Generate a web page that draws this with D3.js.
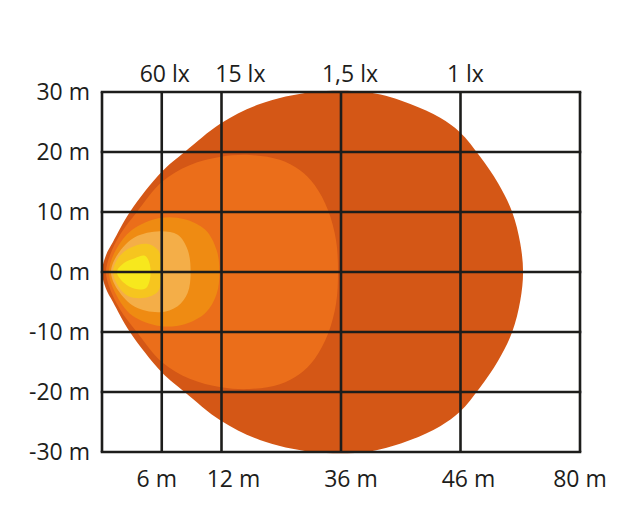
<!DOCTYPE html>
<html>
<head>
<meta charset="utf-8">
<script src="https://cdn.jsdelivr.net/npm/d3@7"></script>
<style>
  body { margin: 0; background: #fff; }
  text { font-family: "Open Sans", sans-serif; font-size: 23px; fill: #1d1d1b; }
</style>
</head>
<body>
<div class="container"></div>
<script>
// distance ticks (m) along the beam, spaced unevenly on the chart
const xTicks = [0, 6, 12, 36, 46, 80];
const xTickLabels = ["", "6 m", "12 m", "36 m", "46 m", "80 m"];
const yTicks = [30, 20, 10, 0, -10, -20, -30];
const yTickLabels = ["30 m", "20 m", "10 m", "0 m", "-10 m", "-20 m", "-30 m"];

// lux labels along the top and where they sit (m)
const luxLabels = ["60 lx", "15 lx", "1,5 lx", "1 lx"];
const luxAt = [6.3, 15.8, 36.75, 47.4];

// isolux contours, [distance m, lateral m]
const contour1lx = [
  [0, 0], [0.4, 2.8], [1.1, 5], [2.8, 10], [6, 16.7], [8.3, 20], [11.95, 24.8], [19.7, 28],
  [30.4, 30], [38.4, 29.9], [41.8, 28], [44.3, 25.7], [45.95, 23.3], [51.5, 19.3],
  [56.7, 14.8], [60.7, 10], [63, 4.8], [63.8, 0], [63, -4.8], [60.7, -10], [56.7, -14.8],
  [51.5, -19.3], [45.95, -23.3], [44.3, -25.7], [41.8, -28], [38.4, -29.9], [30.4, -30],
  [19.7, -28], [11.95, -24.8], [8.3, -20], [6, -16.7], [2.8, -10], [1.1, -5], [0.4, -2.8]
];
const contour1_5lx = [
  [0.4, 0], [0.8, 2.8], [1.8, 6.2], [3.5, 10], [6, 15], [8.8, 17.8], [11.95, 19.2],
  [17.7, 19.5], [23.7, 18.7], [27.7, 17], [30.7, 14.5], [33.4, 10.3], [35, 5.3],
  [35.4, 0], [35, -5.3], [33.4, -10.3], [30.7, -14.5], [27.7, -17], [23.7, -18.7],
  [17.7, -19.5], [11.95, -19.2], [8.8, -17.8], [6, -15], [3.5, -10], [1.8, -6.2],
  [0.8, -2.8]
];
const contour15lx = [
  [0.7, 0], [1.4, 3.7], [3.0, 7], [5.8, 9], [8.3, 8.8], [10.4, 7], [11.5, 3.7],
  [11.8, 0], [11.5, -3.7], [10.4, -6.8], [8.3, -8.7], [5.8, -9], [3.0, -7.2], [1.4, -3.7]
];
const contour30lx = [
  [0.9, 0], [1.6, 3], [3.3, 5.8], [5.8, 6.8], [7.6, 6.2], [8.6, 3.7], [8.9, 0],
  [8.6, -3.5], [7.6, -5.7], [5.8, -6.7], [3.3, -5.8], [1.6, -3]
];
const contour60lx = [
  [1.1, 0], [1.6, 2.3], [2.8, 4], [4.5, 4.7], [5.6, 3.7], [6, 1.7], [6, -1.3],
  [5.6, -3.3], [4.3, -4.3], [2.6, -4], [1.6, -2.3]
];
const contour120lx = [
  [1.5, 0], [2.2, 1.5], [3.3, 2.3], [4.3, 2.7], [4.8, 1.3], [4.8, -1.3], [4.4, -2.7],
  [3.3, -2.8], [2.2, -1.8]
];

const contours = [contour1lx, contour1_5lx, contour15lx, contour30lx, contour60lx, contour120lx];
const colors = ["#d45716", "#eb6e1a", "#ef8b12", "#f4ae48", "#f6c51f", "#f7e81d"];

const svgWidth = 640, svgHeight = 523;
const margin = { top: 92, right: 60, bottom: 71, left: 102 };
const width = svgWidth - margin.left - margin.right;
const height = svgHeight - margin.top - margin.bottom;

const svg = d3.select(".container").append("svg")
  .attr("width", svgWidth)
  .attr("height", svgHeight);

const chartGroup = svg.append("g")
  .attr("transform", `translate(${margin.left}, ${margin.top})`);

// piecewise scale: every tick interval is 1 or 2 grid columns wide
const cols = [0, 1, 2, 4, 6, 8];
const x = d3.scaleLinear()
  .domain(xTicks)
  .range(cols.map(c => c * width / 8));
const y = d3.scaleLinear().domain([-30, 30]).range([height, 0]);

const line = d3.line()
  .x(d => x(d[0]))
  .y(d => y(d[1]))
  .curve(d3.curveCatmullRomClosed.alpha(0.5));

chartGroup.selectAll("path.iso")
  .data(contours)
  .enter()
  .append("path")
  .attr("class", "iso")
  .attr("d", line)
  .attr("fill", (d, i) => colors[i]);

// grid
const gridColor = "#1d1d1b";
chartGroup.selectAll("line.vgrid")
  .data(xTicks)
  .enter()
  .append("line")
  .attr("x1", d => x(d)).attr("x2", d => x(d))
  .attr("y1", 0).attr("y2", height)
  .attr("stroke", gridColor)
  .attr("stroke-width", 2.6);

chartGroup.selectAll("line.hgrid")
  .data(yTicks)
  .enter()
  .append("line")
  .attr("x1", 0).attr("x2", width)
  .attr("y1", d => y(d)).attr("y2", d => y(d))
  .attr("stroke", gridColor)
  .attr("stroke-width", 2.6)
  .attr("stroke-linecap", "square");

// bottom labels (nudged like the original artwork)
const xNudge = [0, -5, 12, 10, 8, 0];
chartGroup.selectAll("text.xlab")
  .data(xTicks)
  .enter()
  .append("text")
  .attr("x", (d, i) => x(d) + xNudge[i])
  .attr("y", height + 35)
  .attr("text-anchor", "middle")
  .text((d, i) => xTickLabels[i]);

// left labels
chartGroup.selectAll("text.ylab")
  .data(yTicks)
  .enter()
  .append("text")
  .attr("x", -12)
  .attr("y", d => y(d) + 8)
  .attr("text-anchor", "end")
  .text((d, i) => yTickLabels[i]);

// lux labels on top
chartGroup.selectAll("text.lux")
  .data(luxAt)
  .enter()
  .append("text")
  .attr("x", d => x(d))
  .attr("y", -10)
  .attr("text-anchor", "middle")
  .text((d, i) => luxLabels[i]);
</script>
</body>
</html>
